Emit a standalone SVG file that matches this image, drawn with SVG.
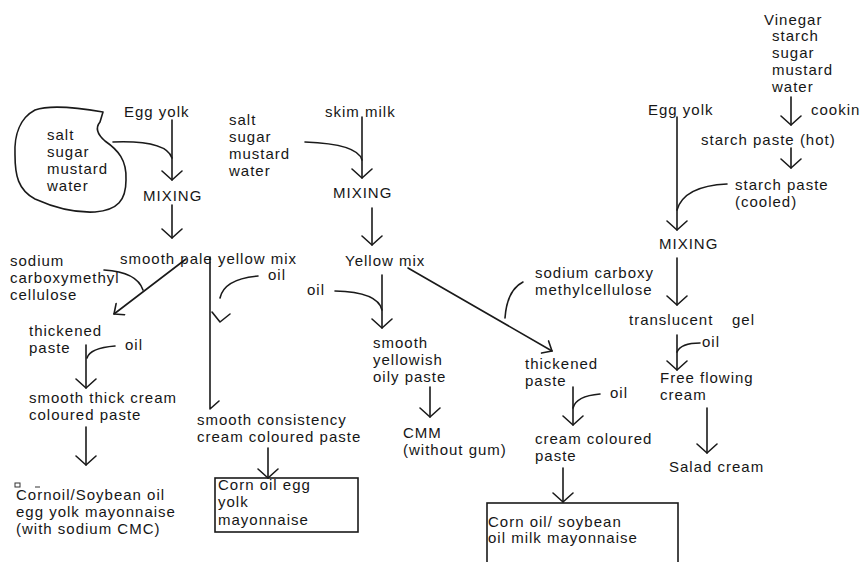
<svg xmlns="http://www.w3.org/2000/svg" width="861" height="562" viewBox="0 0 861 562">
<defs>
<style>
text{font-family:"Liberation Sans",Arial,sans-serif;font-size:15px;letter-spacing:1px;fill:#161616}
.ln{fill:none;stroke:#1a1a1a;stroke-width:1.6;stroke-linecap:round;stroke-linejoin:round}
.box{fill:none;stroke:#1a1a1a;stroke-width:1.6}
</style>
<marker id="ah" viewBox="-12 -12 14 24" markerWidth="14" markerHeight="24" refX="0" refY="0" orient="auto" markerUnits="userSpaceOnUse">
<path d="M-9,-10 L0,0 L-9,10" fill="none" stroke="#1a1a1a" stroke-width="1.6" stroke-linecap="round" stroke-linejoin="round"/>
</marker>
<marker id="ahs" viewBox="-10 -8 12 16" markerWidth="12" markerHeight="16" refX="0" refY="0" orient="auto" markerUnits="userSpaceOnUse">
<path d="M-8,-7 L0,0 L-8,7" fill="none" stroke="#1a1a1a" stroke-width="1.6" stroke-linecap="round" stroke-linejoin="round"/>
</marker>
</defs>
<rect width="861" height="562" fill="#fff"/>

<g id="connectors">
<!-- left column -->
<path class="ln" d="M172,120 L172,180" marker-end="url(#ah)"/>
<path class="ln" d="M113,142 Q166,140 172,158"/>
<path class="ln" d="M172,205 L172,238" marker-end="url(#ah)"/>
<path class="ln" d="M186,259 L114,314" marker-end="url(#ahs)"/>
<path class="ln" d="M104,270 Q137,272 143,290"/>
<path class="ln" d="M210,257 L210,409 M210,409 L219,401"/>
<path class="ln" d="M258,276 Q224,279 220,298"/>
<path class="ln" d="M212,312 L220,322 L230,314"/>
<path class="ln" d="M86,345 L86,388" marker-end="url(#ah)"/>
<path class="ln" d="M115,346 Q90,348 87,358"/>
<path class="ln" d="M86,427 L86,465" marker-end="url(#ah)"/>
<path class="ln" d="M268,448 L268,478" marker-end="url(#ah)"/>
<!-- middle column -->
<path class="ln" d="M362,117 L362,178" marker-end="url(#ah)"/>
<path class="ln" d="M305,142 Q358,144 362,160"/>
<path class="ln" d="M372,208 L372,245" marker-end="url(#ah)"/>
<path class="ln" d="M382,275 L382,328" marker-end="url(#ah)"/>
<path class="ln" d="M335,291 Q378,292 382,310"/>
<path class="ln" d="M430,387 L430,417" marker-end="url(#ah)"/>
<path class="ln" d="M408,268 L552,351" marker-end="url(#ahs)"/>
<path class="ln" d="M523,282 Q507,290 505,318"/>
<path class="ln" d="M573,387 L573,425" marker-end="url(#ah)"/>
<path class="ln" d="M600,394 Q576,396 573,408"/>
<path class="ln" d="M563,468 L563,502" marker-end="url(#ah)"/>
<!-- right column -->
<path class="ln" d="M791,97 L791,125" marker-end="url(#ah)"/>
<path class="ln" d="M677,117 L677,230" marker-end="url(#ah)"/>
<path class="ln" d="M791,148 L791,168" marker-end="url(#ah)"/>
<path class="ln" d="M727,184 Q684,186 677,210"/>
<path class="ln" d="M677,258 L677,305" marker-end="url(#ah)"/>
<path class="ln" d="M677,335 L677,370" marker-end="url(#ah)"/>
<path class="ln" d="M700,343 Q681,343 677,352"/>
<path class="ln" d="M707,408 L707,453" marker-end="url(#ah)"/>
</g>

<g id="n-blob">
<path class="ln" d="M103,112 C80,108 52,104 35,110 C20,118 14,135 15,155 C15,175 18,190 35,199 C55,208 75,213 95,212 C118,210 126,200 126,180 C127,160 118,150 105,141 C97,134 95,128 100,122 Z"/>
<text x="47" y="140">salt</text>
<text x="47" y="157">sugar</text>
<text x="47" y="174">mustard</text>
<text x="47" y="191">water</text>
</g>
<g id="n-eggyolk1"><text x="124" y="117">Egg yolk</text></g>
<g id="n-mixing1"><text x="143" y="201">MIXING</text></g>
<g id="n-palemix"><text x="120" y="264">smooth pale yellow mix</text></g>
<g id="n-cmc1">
<text x="10" y="266">sodium</text>
<text x="10" y="283">carboxymethyl</text>
<text x="10" y="300">cellulose</text>
</g>
<g id="n-oil1"><text x="268" y="280">oil</text></g>
<g id="n-thick1">
<text x="29" y="336">thickened</text>
<text x="29" y="353">paste</text>
</g>
<g id="n-oil2"><text x="125" y="350">oil</text></g>
<g id="n-thickcream">
<text x="29" y="403">smooth thick cream</text>
<text x="29" y="420">coloured paste</text>
</g>
<g id="n-mayo1">
<rect x="15" y="483" width="5" height="4" fill="none" stroke="#333" stroke-width="1"/>
<line x1="35" y1="487" x2="40" y2="487" stroke="#333" stroke-width="1"/>
<text x="16" y="500">Cornoil/Soybean oil</text>
<text x="16" y="517">egg yolk mayonnaise</text>
<text x="16" y="534">(with sodium CMC)</text>
</g>
<g id="n-consistency">
<text x="197" y="425">smooth consistency</text>
<text x="197" y="442">cream coloured paste</text>
</g>
<g id="n-mayo2">
<rect class="box" x="215" y="478" width="143" height="54"/>
<text x="218" y="490">Corn oil egg</text>
<text x="218" y="507">yolk</text>
<text x="218" y="525">mayonnaise</text>
</g>

<g id="n-ingr2">
<text x="229" y="125">salt</text>
<text x="229" y="142">sugar</text>
<text x="229" y="159">mustard</text>
<text x="229" y="176">water</text>
</g>
<g id="n-skim"><text x="325" y="117">skim milk</text></g>
<g id="n-mixing2"><text x="333" y="198">MIXING</text></g>
<g id="n-yellowmix"><text x="345" y="266">Yellow mix</text></g>
<g id="n-oil3"><text x="307" y="295">oil</text></g>
<g id="n-oily">
<text x="373" y="348">smooth</text>
<text x="373" y="365">yellowish</text>
<text x="373" y="382">oily paste</text>
</g>
<g id="n-cmm">
<text x="403" y="438">CMM</text>
<text x="403" y="455">(without gum)</text>
</g>
<g id="n-cmc2">
<text x="535" y="278">sodium carboxy</text>
<text x="535" y="295">methylcellulose</text>
</g>
<g id="n-thick2">
<text x="525" y="369">thickened</text>
<text x="525" y="386">paste</text>
</g>
<g id="n-oil4"><text x="610" y="398">oil</text></g>
<g id="n-creampaste">
<text x="535" y="444">cream coloured</text>
<text x="535" y="461">paste</text>
</g>
<g id="n-mayo3">
<rect class="box" x="487" y="503" width="191" height="70"/>
<text x="488" y="527">Corn oil/ soybean</text>
<text x="488" y="543">oil milk mayonnaise</text>
</g>

<g id="n-vinegar">
<text x="764" y="25">Vinegar</text>
<text x="772" y="41">starch</text>
<text x="772" y="58">sugar</text>
<text x="772" y="75">mustard</text>
<text x="772" y="92">water</text>
</g>
<g id="n-cooking"><text x="811" y="115">cookin</text></g>
<g id="n-eggyolk2"><text x="648" y="115">Egg yolk</text></g>
<g id="n-hot"><text x="701" y="145">starch paste (hot)</text></g>
<g id="n-cooled">
<text x="735" y="190">starch paste</text>
<text x="735" y="207">(cooled)</text>
</g>
<g id="n-mixing3"><text x="659" y="249">MIXING</text></g>
<g id="n-gel"><text x="629" y="325">translucent<tspan x="732">gel</tspan></text></g>
<g id="n-oil5"><text x="702" y="347">oil</text></g>
<g id="n-freeflow">
<text x="660" y="383">Free flowing</text>
<text x="660" y="400">cream</text>
</g>
<g id="n-salad"><text x="669" y="472">Salad cream</text></g>
</svg>
